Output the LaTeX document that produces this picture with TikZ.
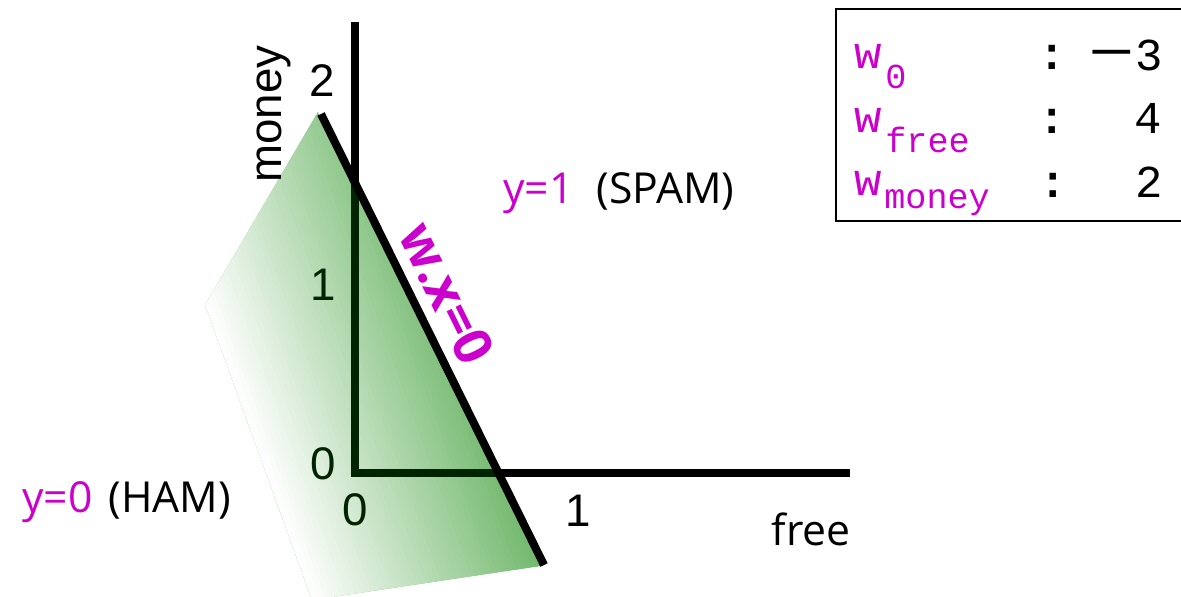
\documentclass[tikz,border=0pt]{standalone}
\usepackage{fontspec}
\setmainfont{Open Sans}
\newfontfamily\arialf{Liberation Sans}
\newfontfamily\monof{Liberation Mono}
\definecolor{mag}{RGB}{204,0,204}
\definecolor{grn}{RGB}{115,185,110}
\definecolor{dgrn}{RGB}{0,36,0}
\begin{document}
\begin{tikzpicture}[x=0.02cm,y=-0.02cm,
  lbl/.style={inner sep=0pt, font=\fontsize{24.3}{29}\selectfont},
  albl/.style={inner sep=0pt, font=\arialf\fontsize{26}{31}\selectfont},
  mono/.style={inner sep=0pt, font=\monof\fontsize{26}{30}\selectfont},
  monob/.style={inner sep=0pt, font=\monof\bfseries\fontsize{26}{30}\selectfont},
  subs/.style={inner sep=0pt, font=\monof\fontsize{20}{24}\selectfont, text=mag},
  axisline/.style={line width=4.2pt, line join=miter},
  decision/.style={line width=4.6pt},
  wxlabel/.style={inner sep=0pt, text=mag, font=\bfseries\fontsize{30}{35}\selectfont}]
\useasboundingbox (0,0) rectangle (1181,596);

% green half-plane region, fading to white away from the boundary
\coordinate (gT) at (318,112);
\coordinate (gR) at (540,566);
\coordinate (gB) at (312,600);
\coordinate (gL) at (205,305);
\begin{scope}
  \clip (gT) -- (gR) -- (gB) -- (gL) -- cycle;
  \fill[grn] (gT) -- (gR) -- (gB) -- (gL) -- cycle;
  \foreach \k in {0,...,45} {
    \pgfmathsetmacro{\da}{86+\k*5}
    \pgfmathsetmacro{\db}{\da+5.6}
    \pgfmathsetmacro{\pc}{min(100,\k*100/45)}
    \fill[grn!\pc!white]
      ({\da*0.94-342},{-\da*0.342-940}) -- ({\da*0.94+342},{-\da*0.342+940}) --
      ({\db*0.94+342},{-\db*0.342+940}) -- ({\db*0.94-342},{-\db*0.342-940}) -- cycle;
  }
\end{scope}

% axes
\coordinate (Ytop) at (355,22);
\coordinate (O) at (355,473);
\coordinate (Xend) at (850,473);
\draw[axisline] (Ytop) -- (O) -- (Xend);
\begin{scope}
  \clip (gT) -- (gR) -- (gB) -- (gL) -- cycle;
  \draw[axisline, dgrn] (Ytop) -- (O) -- (Xend);
\end{scope}

% decision boundary
\coordinate (dT) at (321,114);
\coordinate (dB) at (544,565);
\draw[decision] (dT) -- node[wxlabel, sloped, above=0.2cm, pos=0.43] (wx) {w.x=0} (dB);

% axis labels
\node[albl, rotate=90] (money) at (274,114) {money};
\node[albl] (y2) at (322,81) {2};
\node[albl, text=dgrn] (y1) at (323,285) {1};
\node[albl, text=dgrn] (y0) at (323,464) {0};
\node[albl, text=dgrn] (x0) at (355,510) {0};
\node[albl] (x1) at (578,511) {1};
\node[lbl, anchor=base] (free) at (811,545) {free};

% class labels
\node[lbl, anchor=base west] (spam) at (503,203) {\textcolor{mag}{y=1}\hspace{13pt}(SPAM)};
\node[lbl, anchor=base west] (ham) at (22,512) {\textcolor{mag}{y=0}\hspace{9pt}(HAM)};

% weights box
\draw[line width=1.2pt] (836,9) rectangle (1200,221);
\node[mono, text=mag, anchor=base west] (w0) at (854,68) {w};
\node[subs, anchor=base west] (s0) at (885,88) {0};
\node[mono, text=mag, anchor=base west] (w1) at (854,132) {w};
\node[subs, anchor=base west] (s1) at (885,152) {free};
\node[mono, text=mag, anchor=base west] (w2) at (854,195) {w};
\node[subs, anchor=base west] (s2) at (884,208) {money};
\node[monob, anchor=base] (c0) at (1052,69) {:};
\node[monob, anchor=base] (c1) at (1052,133) {:};
\node[monob, anchor=base] (c2) at (1053,197) {:};
\node[mono, anchor=base east] (v0) at (1163,70) {\scalebox{1.7}[1.2]{−}3};
\node[mono, anchor=base east] (v1) at (1162,133) {4};
\node[mono, anchor=base east] (v2) at (1163,197) {2};
\end{tikzpicture}
\end{document}
